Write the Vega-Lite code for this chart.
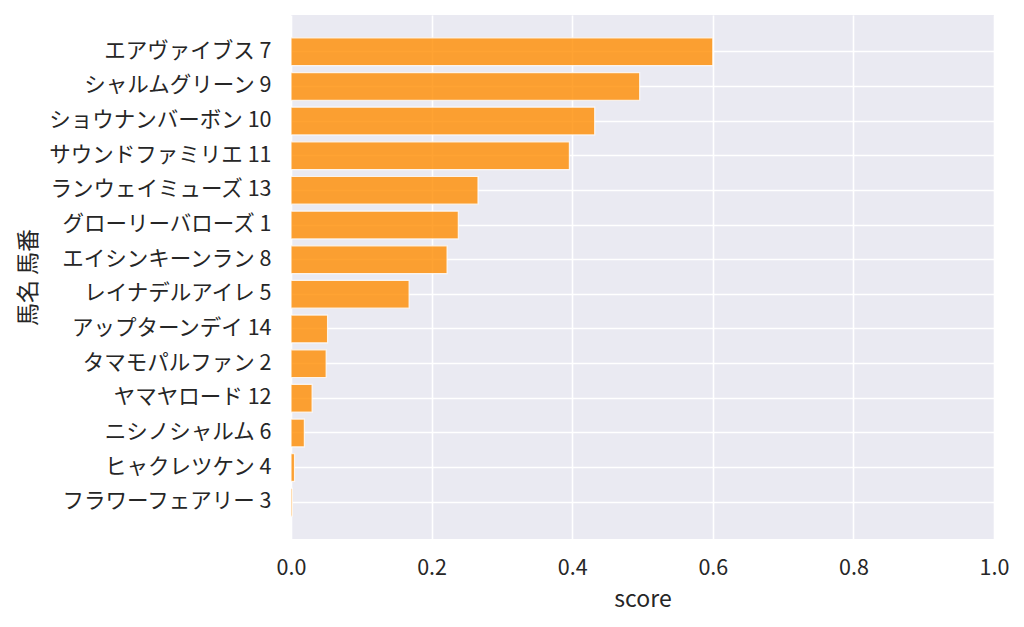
{
  "$schema": "https://vega.github.io/schema/vega-lite/v6.json",
  "autosize": "none",
  "padding": {"left": 291, "top": 15, "right": 30, "bottom": 88},
  "width": 703,
  "height": 524,
  "background": "white",
  "config": {
    "font": "Noto Sans CJK JP",
    "view": {"fill": "#eaeaf2", "stroke": null},
    "axis": {
      "domain": false,
      "ticks": false,
      "grid": true,
      "gridColor": "white",
      "gridWidth": 1.6,
      "labelColor": "#262626",
      "titleColor": "#262626",
      "labelFont": "Noto Sans CJK JP",
      "titleFont": "Noto Sans CJK JP",
      "labelFontSize": 21.5,
      "titleFontSize": 23,
      "titleFontWeight": "normal"
    }
  },
  "data": {
    "values": [
      {"name": "エアヴァイブス 7", "score": 0.600},
      {"name": "シャルムグリーン 9", "score": 0.496},
      {"name": "ショウナンバーボン 10", "score": 0.432},
      {"name": "サウンドファミリエ 11", "score": 0.396},
      {"name": "ランウェイミューズ 13", "score": 0.266},
      {"name": "グローリーバローズ 1", "score": 0.238},
      {"name": "エイシンキーンラン 8", "score": 0.222},
      {"name": "レイナデルアイレ 5", "score": 0.168},
      {"name": "アップターンデイ 14", "score": 0.052},
      {"name": "タマモパルファン 2", "score": 0.050},
      {"name": "ヤマヤロード 12", "score": 0.030},
      {"name": "ニシノシャルム 6", "score": 0.019},
      {"name": "ヒャクレツケン 4", "score": 0.005},
      {"name": "フラワーフェアリー 3", "score": 0.002}
    ]
  },
  "mark": {
    "type": "bar",
    "color": "darkorange",
    "fillOpacity": 0.8,
    "stroke": "white",
    "strokeOpacity": 0.8,
    "strokeWidth": 1.2
  },
  "encoding": {
    "y": {
      "field": "name",
      "type": "nominal",
      "sort": "-x",
      "title": "馬名 馬番",
      "scale": {"paddingInner": 0.2, "paddingOuter": 0.66},
      "axis": {"bandPosition": 0.5, "grid": true, "labelPadding": 20, "titleX": -263, "titleY": 262, "titleAlign": "center", "titleAngle": -90, "titleBaseline": "middle", "labelLimit": 400}
    },
    "x": {
      "field": "score",
      "type": "quantitative",
      "title": "score",
      "scale": {"domain": [0, 1], "nice": false},
      "axis": {"values": [0, 0.2, 0.4, 0.6, 0.8, 1.0], "format": ".1f", "labelFlush": false, "labelPadding": 18, "titlePadding": 10}
    }
  }
}
